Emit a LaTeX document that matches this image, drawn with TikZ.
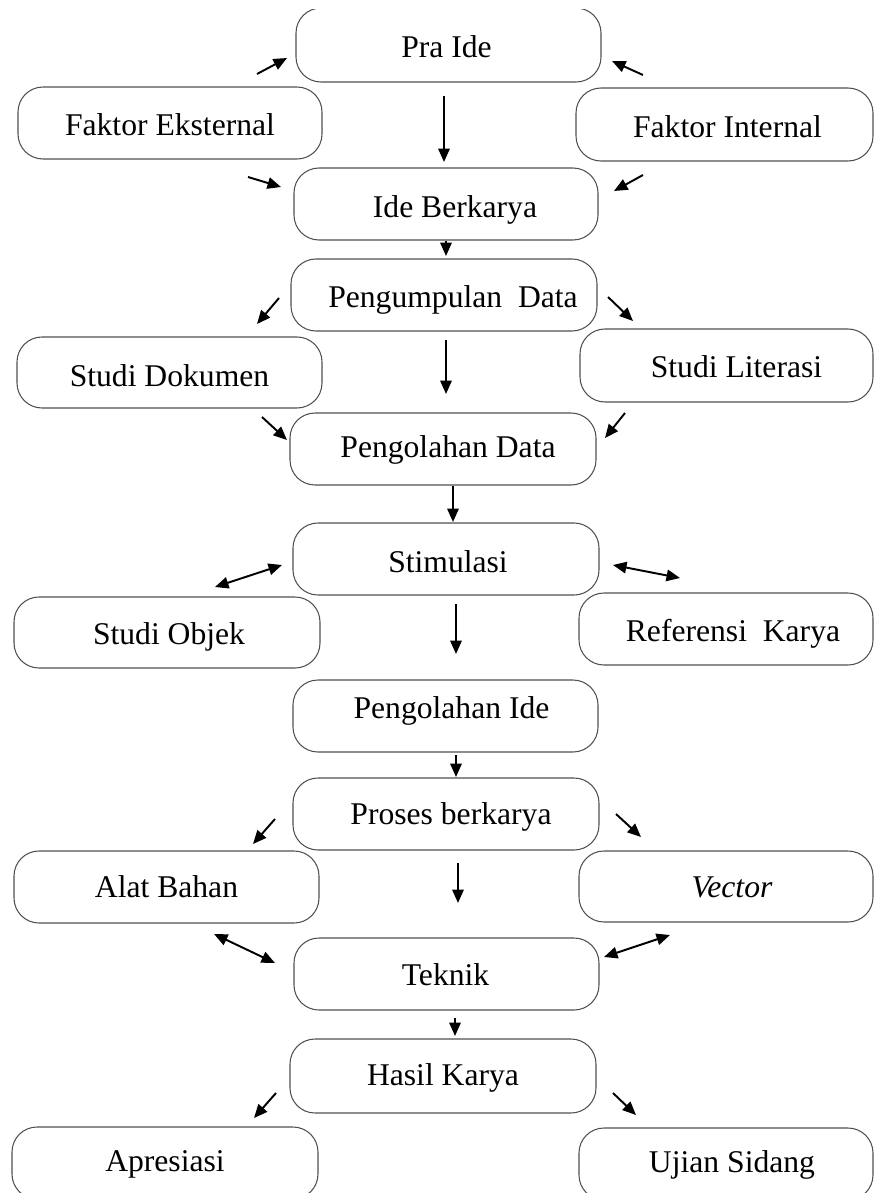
\documentclass[tikz,border=0pt]{standalone}
\usepackage{fontspec}
\setmainfont{Liberation Serif}
\usetikzlibrary{arrows.meta}
\definecolor{boxline}{RGB}{80,80,80}
\tikzset{
  box/.style={draw=boxline, line width=0.6pt, rounded corners=0.5cm, inner sep=0pt, outer sep=0pt,
    font=\fontsize{18}{22}\selectfont, text height=12pt, text depth=0pt},
  arr/.style={line width=1.1pt, -{Triangle[length=0.27cm,width=0.23cm]}},
  darr/.style={line width=1.1pt, {Triangle[length=0.27cm,width=0.23cm]}-{Triangle[length=0.27cm,width=0.23cm]}}
}
% name, x1, y1, x2, y2, text, text x-shift (twice the offset), text raise
\newcommand\bx[8]{\node[box, minimum width={(#4-#2)*0.02cm}, minimum height={(#5-#3)*0.02cm}] (#1) at ({(#2+#4)/2},{(#3+#5)/2}) {\hspace*{#7}\raisebox{#8}{#6}};}
\newcommand\ar[6]{\coordinate (#1s) at (#2,#3); \coordinate (#1e) at (#4,#5); \draw[#6] (#1s) -- (#1e);}
\begin{document}
\begin{tikzpicture}[x=0.02cm, y=-0.02cm]
\useasboundingbox (0,0) rectangle (875,1193);
\begin{scope}
\clip (0,10) rectangle (875,1193);
\bx{praide}{296}{8}{601}{82}{Pra Ide}{-0.08cm}{-0.04cm}
\bx{fe}{18}{87}{322}{159}{Faktor Eksternal}{0cm}{-0.04cm}
\bx{fi}{576}{88}{873}{161}{Faktor Internal}{0.12cm}{-0.04cm}
\bx{ib}{294}{168}{598}{240}{Ide Berkarya}{0.36cm}{-0.06cm}
\bx{pd}{291}{259}{597}{331}{Pengumpulan\ \ Data}{0.36cm}{-0.04cm}
\bx{sd}{17}{337}{322}{408}{Studi Dokumen}{0cm}{-0.06cm}
\bx{sl}{580}{329}{873}{402}{Studi Literasi}{0.4cm}{-0.02cm}
\bx{pld}{290}{413}{596}{485}{Pengolahan Data}{0.2cm}{0.04cm}
\bx{stim}{293}{523}{599}{595}{Stimulasi}{0.08cm}{-0.06cm}
\bx{so}{14}{597}{320}{668}{Studi Objek}{0.08cm}{-0.02cm}
\bx{rk}{579}{593}{873}{665}{Referensi\ \ Karya}{0.28cm}{-0.04cm}
\bx{pi}{293}{680}{598}{752}{Pengolahan Ide}{0.24cm}{0.16cm}
\bx{pb}{293}{778}{599}{850}{Proses berkarya}{0.2cm}{0cm}
\bx{ab}{14}{851}{319}{923}{Alat Bahan}{0cm}{0cm}
\bx{vec}{579}{851}{873}{922}{\textit{Vector}}{0.24cm}{0cm}
\bx{tek}{294}{938}{599}{1010}{Teknik}{-0.04cm}{-0.02cm}
\bx{hk}{290}{1039}{596}{1113}{Hasil Karya}{0cm}{0.02cm}
\bx{apr}{12}{1127}{318}{1199}{Apresiasi}{0cm}{0.04cm}
\bx{us}{579}{1128}{873}{1200}{Ujian Sidang}{0.24cm}{0.04cm}

\ar{a1}{257}{74}{287}{58}{arr}
\ar{a2}{643}{75}{612}{61}{arr}
\ar{a3}{444}{96}{444}{162}{arr}
\ar{a4}{248}{177}{281}{187}{arr}
\ar{a5}{643}{175}{614}{191}{arr}
\ar{a6}{446}{241}{446}{256}{arr}
\ar{a7}{279}{298}{257}{324}{arr}
\ar{a8}{608}{297}{633}{321}{arr}
\ar{a9}{446}{340}{446}{394}{arr}
\ar{a10}{262}{417}{287}{440}{arr}
\ar{a11}{625}{413}{605}{438}{arr}
\ar{a12}{453}{486}{453}{522}{arr}
\ar{a13}{215}{587}{282}{565}{darr}
\ar{a14}{613}{565}{680}{578}{darr}
\ar{a15}{456}{604}{456}{654}{arr}
\ar{a16}{456}{755}{456}{777}{arr}
\ar{a17}{275}{819}{253}{844}{arr}
\ar{a18}{616}{814}{641}{837}{arr}
\ar{a19}{458}{863}{458}{903}{arr}
\ar{a20}{214}{934}{275}{963}{darr}
\ar{a21}{604}{957}{670}{935}{darr}
\ar{a22}{455}{1018}{455}{1036}{arr}
\ar{a23}{276}{1093}{254}{1118}{arr}
\ar{a24}{613}{1093}{636}{1115}{arr}
\end{scope}
\end{tikzpicture}
\end{document}
